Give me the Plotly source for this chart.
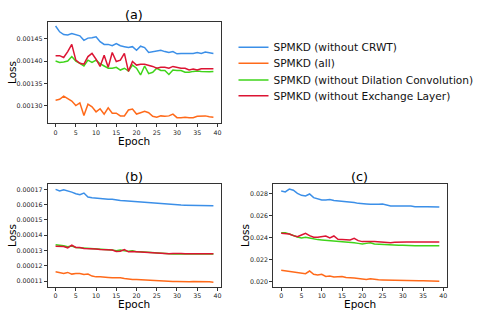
import plotly.graph_objects as go

epochs = list(range(40))

series_names = [
    "SPMKD (without CRWT)",
    "SPMKD (all)",
    "SPMKD (without Dilation Convolution)",
    "SPMKD (without Exchange Layer)",
]
series_colors = ["#3b8fe8", "#ff6a1a", "#3fd41a", "#dc1433"]

# ---- subplot (a)
a_blue = [0.001478, 0.001465, 0.001459, 0.001458, 0.001461, 0.001459, 0.001456, 0.001446, 0.001451, 0.001452,
          0.001454, 0.001443, 0.001437, 0.001437, 0.001434, 0.001439, 0.001434, 0.001432, 0.001430, 0.001432,
          0.001424, 0.001433, 0.001430, 0.001419, 0.001421, 0.001423, 0.001424, 0.001421, 0.001419, 0.001421,
          0.001416, 0.001417, 0.001417, 0.001416, 0.001417, 0.001419, 0.001417, 0.001420, 0.001418, 0.001417]
a_orange = [0.001313, 0.001315, 0.001322, 0.001317, 0.001311, 0.001301, 0.001307, 0.001279, 0.001304, 0.001298,
            0.001287, 0.001294, 0.001282, 0.001296, 0.001284, 0.001284, 0.001278, 0.001278, 0.001291, 0.001293,
            0.001282, 0.001285, 0.001288, 0.001285, 0.001277, 0.001275, 0.001278, 0.001277, 0.001278, 0.001282,
            0.001274, 0.001274, 0.001275, 0.001274, 0.001274, 0.001277, 0.001277, 0.001278, 0.001276, 0.001275]
a_green = [0.001400, 0.001397, 0.001398, 0.001400, 0.001410, 0.001400, 0.001395, 0.001389, 0.001402, 0.001397,
           0.001402, 0.001394, 0.001389, 0.001384, 0.001384, 0.001386, 0.001380, 0.001384, 0.001378, 0.001391,
           0.001384, 0.001369, 0.001389, 0.001372, 0.001375, 0.001384, 0.001379, 0.001379, 0.001370, 0.001380,
           0.001379, 0.001379, 0.001375, 0.001375, 0.001377, 0.001378, 0.001377, 0.001376, 0.001376, 0.001377]
a_red = [0.001412, 0.001412, 0.001408, 0.001421, 0.001437, 0.001402, 0.001395, 0.001393, 0.001410, 0.001417,
         0.001404, 0.001388, 0.001413, 0.001386, 0.001419, 0.001399, 0.001402, 0.001417, 0.001377, 0.001399,
         0.001391, 0.001393, 0.001393, 0.001391, 0.001388, 0.001384, 0.001386, 0.001386, 0.001384, 0.001388,
         0.001386, 0.001384, 0.001384, 0.001380, 0.001382, 0.001380, 0.001383, 0.001383, 0.001383, 0.001383]

# ---- subplot (b)
b_blue = [0.0001700, 0.0001690, 0.0001698, 0.0001692, 0.0001682, 0.0001672, 0.0001665, 0.0001676, 0.0001650, 0.0001645,
          0.0001642, 0.0001640, 0.0001637, 0.0001636, 0.0001636, 0.0001630, 0.0001627, 0.0001626, 0.0001624, 0.0001621,
          0.0001616, 0.0001614, 0.0001612, 0.0001611, 0.0001610, 0.0001607, 0.0001604, 0.0001603, 0.0001602, 0.0001601,
          0.0001600, 0.0001598, 0.0001597, 0.0001597, 0.0001595, 0.0001595, 0.0001594, 0.0001594, 0.0001595, 0.0001593]
b_orange = [0.0001161, 0.0001155, 0.0001150, 0.0001157, 0.0001146, 0.0001150, 0.0001150, 0.0001144, 0.0001146, 0.0001133,
            0.0001128, 0.0001128, 0.0001124, 0.0001124, 0.0001122, 0.0001122, 0.0001122, 0.0001117, 0.0001113, 0.0001111,
            0.0001111, 0.0001109, 0.0001109, 0.0001107, 0.0001104, 0.0001104, 0.0001100, 0.0001102, 0.0001100, 0.0001098,
            0.0001098, 0.0001096, 0.0001096, 0.0001096, 0.0001098, 0.0001098, 0.0001098, 0.0001096, 0.0001096, 0.0001093]
b_green = [0.0001338, 0.0001336, 0.0001331, 0.0001325, 0.0001329, 0.0001320, 0.0001318, 0.0001318, 0.0001318, 0.0001316,
           0.0001312, 0.0001310, 0.0001307, 0.0001307, 0.0001303, 0.0001299, 0.0001303, 0.0001299, 0.0001296, 0.0001299,
           0.0001292, 0.0001292, 0.0001290, 0.0001288, 0.0001285, 0.0001283, 0.0001281, 0.0001279, 0.0001275, 0.0001277,
           0.0001277, 0.0001277, 0.0001277, 0.0001275, 0.0001277, 0.0001277, 0.0001277, 0.0001277, 0.0001277, 0.0001277]
b_red = [0.0001329, 0.0001327, 0.0001327, 0.0001318, 0.0001336, 0.0001320, 0.0001320, 0.0001314, 0.0001314, 0.0001314,
         0.0001310, 0.0001307, 0.0001307, 0.0001305, 0.0001303, 0.0001294, 0.0001296, 0.0001307, 0.0001292, 0.0001294,
         0.0001292, 0.0001290, 0.0001290, 0.0001288, 0.0001285, 0.0001285, 0.0001283, 0.0001281, 0.0001279, 0.0001281,
         0.0001283, 0.0001281, 0.0001279, 0.0001279, 0.0001279, 0.0001279, 0.0001279, 0.0001279, 0.0001279, 0.0001279]

# ---- subplot (c)
c_blue = [0.02820, 0.02812, 0.02838, 0.02828, 0.02800, 0.02782, 0.02776, 0.02794, 0.02761, 0.02749,
          0.02740, 0.02740, 0.02743, 0.02734, 0.02731, 0.02725, 0.02722, 0.02722, 0.02716, 0.02709,
          0.02709, 0.02703, 0.02700, 0.02697, 0.02700, 0.02703, 0.02694, 0.02685, 0.02685, 0.02685,
          0.02688, 0.02685, 0.02685, 0.02679, 0.02682, 0.02679, 0.02679, 0.02679, 0.02679, 0.02676]
c_orange = [0.02103, 0.02097, 0.02091, 0.02088, 0.02085, 0.02079, 0.02073, 0.02097, 0.02067, 0.02061,
            0.02067, 0.02048, 0.02051, 0.02042, 0.02042, 0.02048, 0.02039, 0.02033, 0.02033, 0.02030,
            0.02024, 0.02021, 0.02027, 0.02020, 0.02017, 0.02016, 0.02015, 0.02012, 0.02008, 0.02007,
            0.02010, 0.02010, 0.02008, 0.02008, 0.02008, 0.02008, 0.02008, 0.02007, 0.02005, 0.02005]
c_green = [0.02444, 0.02444, 0.02432, 0.02417, 0.02405, 0.02396, 0.02402, 0.02396, 0.02387, 0.02381,
           0.02378, 0.02375, 0.02375, 0.02372, 0.02369, 0.02363, 0.02360, 0.02357, 0.02353, 0.02347,
           0.02341, 0.02347, 0.02353, 0.02341, 0.02338, 0.02341, 0.02332, 0.02329, 0.02332, 0.02329,
           0.02329, 0.02326, 0.02326, 0.02326, 0.02326, 0.02329, 0.02326, 0.02326, 0.02326, 0.02326]
c_red = [0.02438, 0.02438, 0.02432, 0.02417, 0.02408, 0.02423, 0.02438, 0.02417, 0.02402, 0.02402,
         0.02408, 0.02414, 0.02396, 0.02414, 0.02384, 0.02384, 0.02381, 0.02378, 0.02393, 0.02372,
         0.02363, 0.02366, 0.02363, 0.02363, 0.02360, 0.02360, 0.02357, 0.02353, 0.02357, 0.02360,
         0.02360, 0.02360, 0.02360, 0.02360, 0.02360, 0.02360, 0.02360, 0.02360, 0.02360, 0.02360]

panels = [
    ("(a)", [a_blue, a_orange, a_green, a_red]),
    ("(b)", [b_blue, b_orange, b_green, b_red]),
    ("(c)", [c_blue, c_orange, c_green, c_red]),
]

W, H = 485, 313
FONT = "DejaVu Sans"
legend_ids = ["legend", "legend2", "legend3", "legend4"]

fig = go.Figure()
for p, (title, series) in enumerate(panels):
    sfx = "" if p == 0 else str(p + 1)
    for k, vals in enumerate(series):
        fig.add_trace(go.Scatter(
            x=epochs, y=vals, mode="lines", name=series_names[k],
            line=dict(color=series_colors[k], width=1.5),
            showlegend=(p == 0), legend=legend_ids[k],
            xaxis="x" + sfx, yaxis="y" + sfx,
        ))

def px_x(v):
    return v / W

def px_y(v):
    return 1 - v / H

# axis boxes in pixels (left, right, top, bottom)
boxes = [(47.7, 221.3, 21.7, 123.3), (47.7, 221.3, 184.2, 286.5), (273.3, 447.2, 184.3, 286.7)]
yranges = [[0.0012615, 0.0014875], [0.0001065, 0.0001734], [0.01955, 0.028815]]
ytick_step = [0.00005, 0.00001, 0.002]
ytick_fmt = [".5f", ".5f", ".3f"]

axis_common = dict(
    showline=True, mirror=True, linecolor="#333333", linewidth=1,
    showgrid=False, zeroline=False, ticks="outside", ticklen=3, tickwidth=0.8,
    tickcolor="#333333", tickfont=dict(family=FONT, size=6.3, color="#222222"),
)

layout_axes = {}
for p, (l, r, t, b) in enumerate(boxes):
    sfx = "" if p == 0 else str(p + 1)
    layout_axes["xaxis" + sfx] = dict(
        axis_common, domain=[px_x(l), px_x(r)], anchor="y" + sfx,
        range=[-1.95, 40.95], tick0=0, dtick=5,
    )
    layout_axes["yaxis" + sfx] = dict(
        axis_common, domain=[px_y(b), px_y(t)], anchor="x" + sfx,
        range=yranges[p], tick0=0, dtick=ytick_step[p], tickformat=ytick_fmt[p],
    )

annotations = []
title_pos = [(134, 14), (134, 176.5), (359.3, 176.5)]
epoch_pos = [(134, 141), (134, 304), (360, 304)]
loss_pos = [(12, 73), (12, 236), (245.5, 235.5)]
for p, (title, _) in enumerate(panels):
    annotations.append(dict(text=title, x=px_x(title_pos[p][0]), y=px_y(title_pos[p][1]),
                            xref="paper", yref="paper", showarrow=False,
                            xanchor="center", yanchor="middle", borderpad=0,
                            font=dict(family=FONT, size=12.8, color="black")))
    annotations.append(dict(text="Epoch", x=px_x(epoch_pos[p][0]), y=px_y(epoch_pos[p][1]),
                            xref="paper", yref="paper", showarrow=False,
                            xanchor="center", yanchor="middle", borderpad=0,
                            font=dict(family=FONT, size=10.5, color="black")))
    annotations.append(dict(text="Loss", x=px_x(loss_pos[p][0]), y=px_y(loss_pos[p][1]),
                            xref="paper", yref="paper", showarrow=False, textangle=-90,
                            xanchor="center", yanchor="middle", borderpad=0,
                            font=dict(family=FONT, size=10.5, color="black")))

legend_rows = [47.3, 63.3, 80.0, 95.7]
legends = {}
for k, lid in enumerate(legend_ids):
    legends[lid] = dict(
        x=px_x(233.5), y=px_y(legend_rows[k]), xanchor="left", yanchor="middle",
        font=dict(family=FONT, size=10.6, color="#111111"),
        bgcolor="rgba(0,0,0,0)", itemwidth=30,
    )

fig.update_layout(
    width=W, height=H,
    margin=dict(l=0, r=0, t=0, b=0),
    paper_bgcolor="white", plot_bgcolor="white",
    font=dict(family=FONT, color="black"),
    annotations=annotations,
    **legends,
    **layout_axes,
)

fig.write_html("out.html", config={"displayModeBar": False},
               post_script="document.body.style.margin='0px';")
